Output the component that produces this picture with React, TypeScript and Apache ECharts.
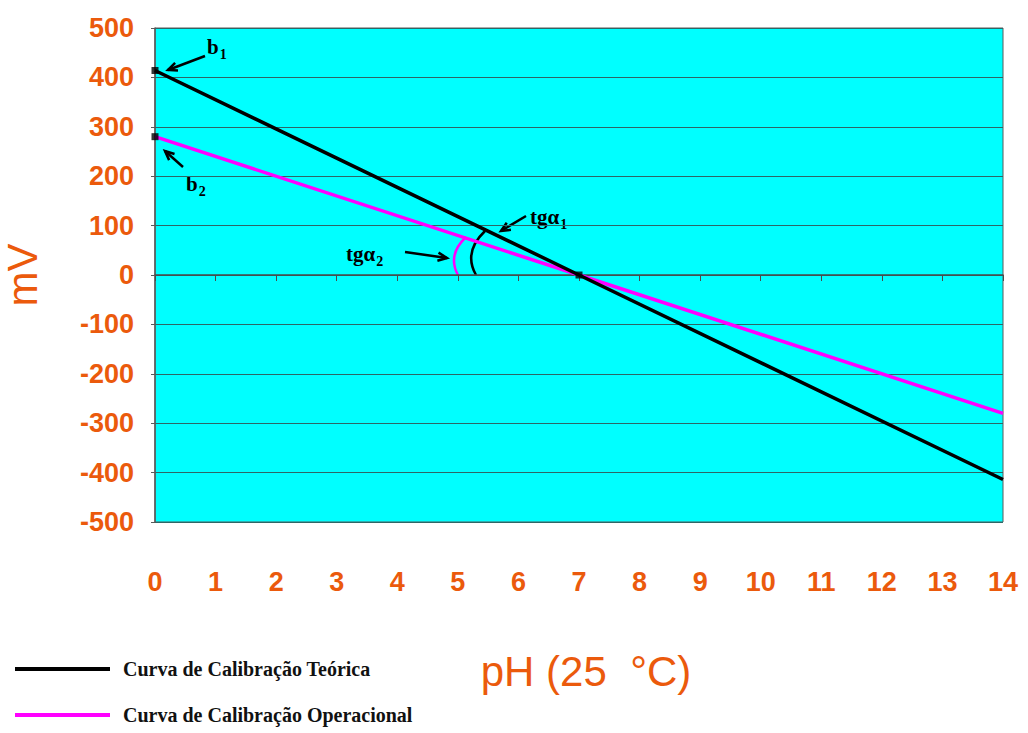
import React, { useEffect, useRef } from "react";
import * as echarts from "echarts";

const phTicks = [0, 14];
const phPoints = [0, 7, 14];
const theoretical = [414, 0, -414];
const operational = [280, 0, -280];
const calibrationDots: [number, number][] = [
  [0, 414],
  [0, 280],
  [7, 0],
];
const seriesNames = ["Curva de Calibração Teórica", "Curva de Calibração Operacional"];

const ORANGE = "#EB5A0C";
const SANS = "Liberation Sans, Arial, sans-serif";
const SERIF = "Liberation Serif, Times New Roman, serif";

function arrow(x1: number, y1: number, x2: number, y2: number, color = "#000") {
  const ang = Math.atan2(y2 - y1, x2 - x1);
  const L = 10;
  const a = (24 * Math.PI) / 180;
  const p1 = [x2 - L * Math.cos(ang - a), y2 - L * Math.sin(ang - a)];
  const p2 = [x2 - L * Math.cos(ang + a), y2 - L * Math.sin(ang + a)];
  return {
    type: "group",
    children: [
      { type: "line", shape: { x1, y1, x2, y2 }, style: { stroke: color, lineWidth: 2.5 } },
      { type: "polyline", shape: { points: [p1, [x2, y2], p2] }, style: { stroke: color, lineWidth: 2.5, fill: null } },
    ],
  };
}

function label(x: number, y: number, main: string, sub: string) {
  return {
    type: "text",
    x,
    y,
    style: {
      text: `{m|${main}}{s|${sub}}`,
      rich: {
        m: { fontFamily: SERIF, fontWeight: "bold", fontSize: 21, fill: "#000" },
        s: { fontFamily: SERIF, fontWeight: "bold", fontSize: 14, fill: "#000", padding: [14, 0, 0, 1] },
      },
    },
  };
}

export default function App() {
  const ref = useRef<HTMLDivElement>(null);
  useEffect(() => {
    if (!ref.current) return;
    const chart = echarts.init(ref.current, undefined, { renderer: "svg" });
    chart.setOption({
      animation: false,
      backgroundColor: "#ffffff",
      grid: {
        left: 155,
        right: 25,
        top: 28,
        bottom: 211,
        outerBoundsMode: "none",
        containLabel: false,
        show: true,
        backgroundColor: "#00FFFF",
        borderColor: "#5a5a5a",
        borderWidth: 1,
      },
      legend: {
        left: 15,
        top: 659,
        width: 440,
        height: 120,
        orient: "vertical",
        icon: "rect",
        itemWidth: 95,
        itemHeight: 4,
        itemGap: 26,
        padding: 0,
        data: seriesNames,
        textStyle: { fontFamily: SERIF, fontWeight: "bold", fontSize: 20, color: "#111", padding: [0, 0, 0, 8] },
      },
      xAxis: [
        {
          type: "value",
          min: phTicks[0],
          max: phTicks[1],
          interval: 1,
          position: "bottom",
          name: "pH (25  °C)",
          nameLocation: "middle",
          nameGap: 128,
          nameTextStyle: { fontFamily: SANS, fontSize: 42, color: ORANGE, padding: [0, 0, 0, 14] },
          axisLine: { show: false, onZero: false },
          axisTick: { show: false },
          splitLine: { show: false },
          axisLabel: { fontFamily: SANS, fontWeight: "bold", fontSize: 27, color: ORANGE, margin: 46 },
        },
        {
          type: "value",
          min: phTicks[0],
          max: phTicks[1],
          interval: 1,
          position: "bottom",
          axisLine: { show: true, onZero: true, lineStyle: { color: "#4a4a4a", width: 1.5 } },
          axisTick: { show: true, length: 6, lineStyle: { color: "#4a4a4a" } },
          axisLabel: { show: false },
          splitLine: { show: false },
        },
      ],
      yAxis: {
        type: "value",
        min: -500,
        max: 500,
        interval: 100,
        name: "mV",
        nameLocation: "middle",
        nameGap: 112,
        nameRotate: 90,
        nameTextStyle: { fontFamily: SANS, fontSize: 42, color: ORANGE },
        axisLine: { show: true, lineStyle: { color: "#5a5a5a", width: 1.5 } },
        axisTick: { show: true, length: 4, lineStyle: { color: "#5a5a5a" } },
        splitLine: { show: true, lineStyle: { color: "#2E6666", width: 1 } },
        axisLabel: { fontFamily: SANS, fontWeight: "bold", fontSize: 27, color: ORANGE, margin: 21 },
      },
      series: [
        {
          name: seriesNames[0],
          type: "line",
          xAxisIndex: 0,
          data: phPoints.map((x, i) => [x, theoretical[i]]),
          symbol: "none",
          lineStyle: { color: "#000000", width: 3.5 },
          itemStyle: { color: "#000000" },
          z: 3,
        },
        {
          name: seriesNames[1],
          type: "line",
          xAxisIndex: 0,
          data: phPoints.map((x, i) => [x, operational[i]]),
          symbol: "none",
          lineStyle: { color: "#FF00FF", width: 3.5 },
          itemStyle: { color: "#FF00FF" },
          z: 2,
        },
        {
          name: "pontos",
          type: "scatter",
          xAxisIndex: 0,
          data: calibrationDots,
          symbol: "rect",
          symbolSize: 7,
          itemStyle: { color: "#000000" },
          z: 5,
        },
      ],
      graphic: [
        arrow(205, 56, 168, 70),
        label(207, 33, "b", "1"),
        arrow(183, 167, 165, 151),
        label(186, 170, "b", "2"),
        arrow(526, 216, 501, 231),
        label(530, 203, "tgα", "1"),
        arrow(405, 252, 447, 258),
        label(346, 240, "tgα", "2"),
        {
          type: "bezierCurve",
          shape: { x1: 458, y1: 275, cpx1: 447, cpy1: 255, x2: 466, y2: 237 },
          style: { stroke: "#FF00FF", lineWidth: 2.5, fill: null },
        },
        {
          type: "bezierCurve",
          shape: { x1: 476, y1: 275, cpx1: 463, cpy1: 252, x2: 485, y2: 231 },
          style: { stroke: "#000000", lineWidth: 2.5, fill: null },
        },
      ],
    });
    return () => chart.dispose();
  }, []);
  return <div ref={ref} style={{ width: 1028, height: 733, position: "absolute", left: 0, top: 0 }} />;
}
